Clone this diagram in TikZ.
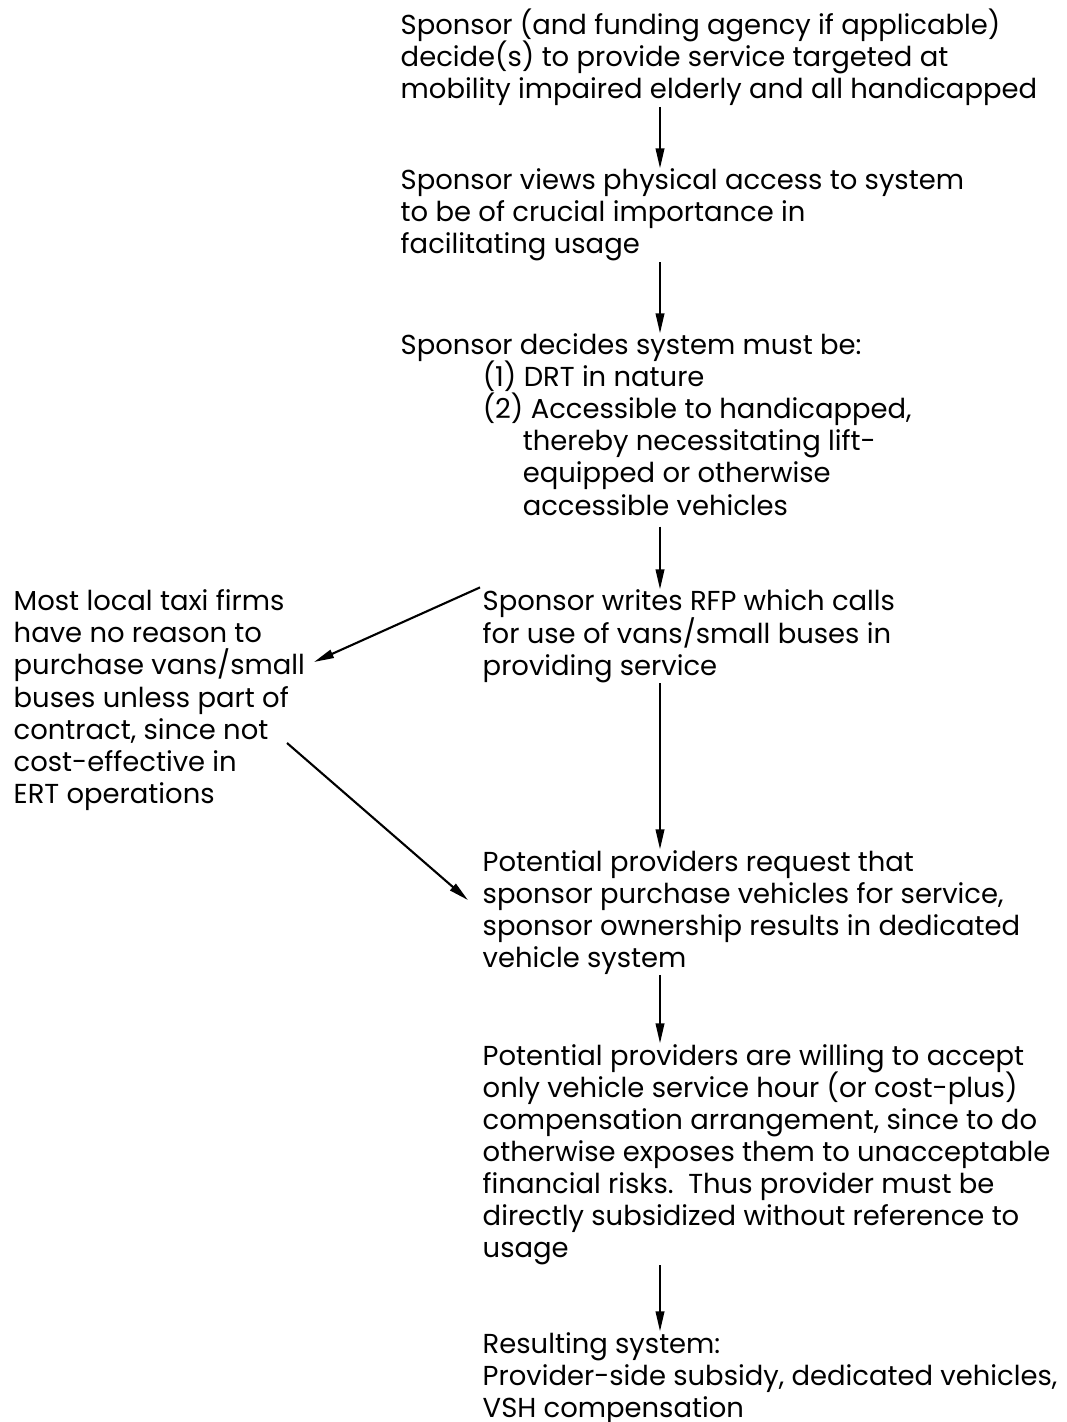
\documentclass[tikz,border=0pt]{standalone}
\usepackage{fontspec}
\setmainfont{Poppins}
\usetikzlibrary{arrows.meta,calc}

\begin{document}
\begin{tikzpicture}[x=0.01cm, y=-0.01cm]
	\tikzset{
		block/.style = {anchor=base west, align=left, inner sep=0pt,
			font={\fontsize{7.8}{9.1}\selectfont\lineskiplimit=-20pt\relax}},
		flow/.style = {line width=0.6pt, -{Triangle[length=2mm, width=0.85mm]}}
	}
	\useasboundingbox (0, 0) rectangle (1066, 1422);
	% the chain of decisions (placed at the baseline of the last line)
	\node[block] (b1) at (400, 99) {Sponsor (and funding agency if applicable)\\
		decide(s) to provide service targeted at\\
		mobility impaired elderly and all handicapped};
	\node[block] (b2) at (400, 254) {Sponsor views physical access to system\\
		to be of crucial importance in\\
		facilitating usage};
	\node[block] (b3) at (400, 515) {Sponsor decides system must be:\\
		\hspace*{0.82cm}(1) DRT in nature\\
		\hspace*{0.82cm}(2) Accessible to handicapped,\\
		\hspace*{1.22cm}thereby necessitating lift-\\
		\hspace*{1.22cm}equipped or otherwise\\
		\hspace*{1.22cm}accessible vehicles};
	\node[block] (b4) at (482, 675) {Sponsor writes RFP which calls\\
		for use of vans/small buses in\\
		providing service};
	\node[block] (taxi) at (13, 803) {Most local taxi firms\\
		have no reason to\\
		purchase vans/small\\
		buses unless part of\\
		contract, since not\\
		cost-effective in\\
		ERT operations};
	\node[block] (b5) at (482, 967) {Potential providers request that\\
		sponsor purchase vehicles for service,\\
		sponsor ownership results in dedicated\\
		vehicle system};
	\node[block] (b6) at (482, 1257) {Potential providers are willing to accept\\
		only vehicle service hour (or cost-plus)\\
		compensation arrangement, since to do\\
		otherwise exposes them to unacceptable\\
		financial risks.\ \ Thus provider must be\\
		directly subsidized without reference to\\
		usage};
	\node[block] (b7) at (482, 1417) {Resulting system:\\
		Provider-side subsidy, dedicated vehicles,\\
		VSH compensation};

	% arrows
	\coordinate (ax) at (660, 0);
	\coordinate (tipA) at (314, 662);
	\coordinate (tailB) at (287, 743);
	\draw[flow] (b1.south -| ax) -- (b2.north -| ax);
	\draw[flow] (b2.south -| ax) -- (b3.north -| ax);
	\draw[flow, shorten <=3pt] (b3.south -| ax) -- (b4.north -| ax);
	\draw[flow] (b4.south -| ax) -- (b5.north -| ax);
	\draw[flow] (b5.south -| ax) -- (b6.north -| ax);
	\draw[flow] (b6.south -| ax) -- (b7.north -| ax);
	\draw[flow] ($(b4.north west)+(-2, -2)$) -- (tipA);
	\draw[flow] (tailB) -- ($(b5.west)+(-14, -12)$);
\end{tikzpicture}
\end{document}
